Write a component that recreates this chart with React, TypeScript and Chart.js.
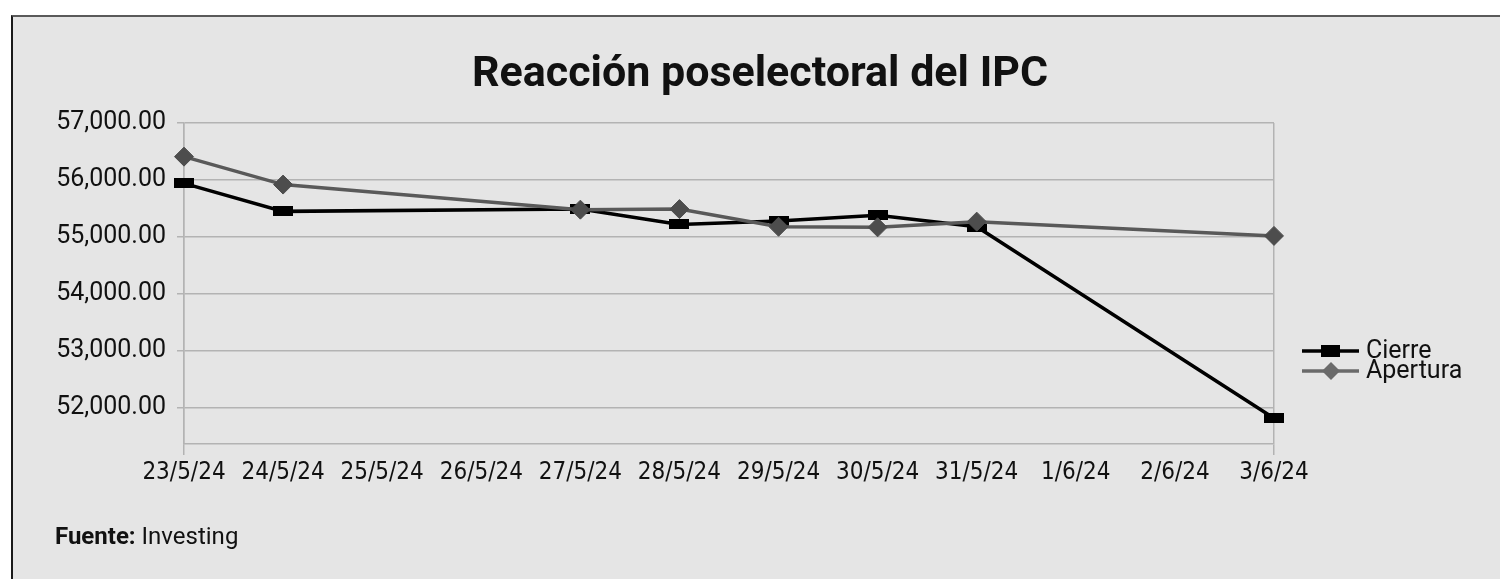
import { useEffect, useRef } from 'react';
import { Chart, registerables } from 'chart.js';

Chart.register(...registerables);

const TITLE = 'Reacción poselectoral del IPC';
const labels = ['23/5/24', '24/5/24', '25/5/24', '26/5/24', '27/5/24', '28/5/24', '29/5/24', '30/5/24', '31/5/24', '1/6/24', '2/6/24', '3/6/24'];
const cierre = [55940, 55450, null, null, 55490, 55220, 55280, 55380, 55180, null, null, 51820];
const apertura = [56410, 55920, null, null, 55480, 55490, 55180, 55170, 55270, null, null, 55020];
const yTickValues = [52000, 53000, 54000, 55000, 56000, 57000];
const Y_MIN = 51370;
const Y_MAX = 57000;

const CIERRE_COLOR = '#000000';
const APERTURA_COLOR = '#4d4d4d';
const APERTURA_LINE = '#595959';
const GRID = '#b3b3b3';

function makeRect(w: number, h: number, color: string) {
  const c = document.createElement('canvas');
  c.width = w;
  c.height = h;
  const ctx = c.getContext('2d')!;
  ctx.fillStyle = color;
  ctx.fillRect(0, 0, w, h);
  return c;
}

export default function App() {
  const ref = useRef<HTMLCanvasElement | null>(null);

  useEffect(() => {
    if (!ref.current) return;
    const rectMarker = makeRect(20, 10, CIERRE_COLOR);

    const overlay = {
      id: 'overlay',
      afterDraw(chart: any) {
        const ctx = chart.ctx as CanvasRenderingContext2D;
        ctx.save();
        // title
        ctx.fillStyle = '#111';
        ctx.font = 'bold 43px Roboto';
        ctx.textAlign = 'center';
        ctx.textBaseline = 'alphabetic';
        ctx.fillText(TITLE, 760, 86);
        // legend
        const items = [
          { label: 'Cierre', color: CIERRE_COLOR, y: 351, type: 'rect' },
          { label: 'Apertura', color: '#6a6a6a', y: 371, type: 'diamond' },
        ];
        ctx.textAlign = 'left';
        ctx.textBaseline = 'middle';
        ctx.font = '25px Roboto';
        for (const it of items) {
          ctx.strokeStyle = it.color;
          ctx.lineWidth = 3.5;
          ctx.beginPath();
          ctx.moveTo(1302, it.y);
          ctx.lineTo(1359, it.y);
          ctx.stroke();
          ctx.fillStyle = it.color;
          if (it.type === 'rect') {
            ctx.fillRect(1321, it.y - 6, 19, 12);
          } else {
            ctx.beginPath();
            ctx.moveTo(1331, it.y - 9);
            ctx.lineTo(1340, it.y);
            ctx.lineTo(1331, it.y + 9);
            ctx.lineTo(1322, it.y);
            ctx.closePath();
            ctx.fill();
          }
          ctx.fillStyle = '#111';
          ctx.fillText(it.label, 1366, it.y + 1);
        }
        // source
        ctx.textBaseline = 'alphabetic';
        ctx.font = 'bold 24px Roboto';
        ctx.fillStyle = '#111';
        const bold = 'Fuente:';
        ctx.fillText(bold, 55, 544);
        const w = ctx.measureText(bold).width;
        ctx.font = '24px Roboto';
        ctx.fillText(' Investing', 55 + w, 544);
        ctx.restore();
      },
    };

    const chart = new Chart(ref.current, {
      type: 'line',
      data: {
        labels,
        datasets: [
          {
            label: 'Cierre',
            data: cierre,
            borderColor: CIERRE_COLOR,
            backgroundColor: CIERRE_COLOR,
            borderWidth: 3.5,
            pointStyle: rectMarker as any,
            pointRadius: 10,
            spanGaps: true,
            tension: 0,
            order: 1,
          },
          {
            label: 'Apertura',
            data: apertura,
            borderColor: APERTURA_LINE,
            backgroundColor: APERTURA_COLOR,
            pointBorderColor: APERTURA_COLOR,
            pointBackgroundColor: APERTURA_COLOR,
            borderWidth: 3.5,
            pointStyle: 'rectRot',
            pointRadius: 9.5,
            pointBorderWidth: 1,
            spanGaps: true,
            tension: 0,
            order: 0,
          },
        ],
      },
      options: {
        responsive: false,
        animation: false,
        layout: { padding: { left: 0, top: 123, right: 226, bottom: 75 } },
        plugins: {
          legend: { display: false },
          title: { display: false },
          tooltip: { enabled: false },
        },
        scales: {
          x: {
            type: 'category',
            offset: false,
            afterFit: (s: any) => {
              s.height = 60;
            },
            grid: {
              display: true,
              drawOnChartArea: true,
              color: (c: any) => (c.index === 0 || c.index === labels.length - 1 ? GRID : 'rgba(0,0,0,0)'),
              tickLength: 11,
              lineWidth: 1.5,
            },
            border: { display: true, color: GRID, width: 1.5 },
            ticks: {
              autoSkip: false,
              maxRotation: 0,
              minRotation: 0,
              color: '#111',
              padding: 3,
              font: { family: "'DejaVu Sans Condensed', 'Liberation Sans Narrow', Roboto", size: 24 },
            },
          },
          y: {
            type: 'linear',
            min: Y_MIN,
            max: Y_MAX,
            afterFit: (s: any) => {
              s.width = 184;
            },
            afterBuildTicks: (s: any) => {
              s.ticks = yTickValues.map((v) => ({ value: v }));
            },
            grid: {
              color: GRID,
              tickLength: 7,
              lineWidth: 1.5,
            },
            border: { display: true, color: GRID, width: 1.5 },
            ticks: {
              autoSkip: false,
              padding: 11,
              color: '#111',
              font: { family: 'Roboto', size: 25 },
              callback: (v: any) =>
                Number(v).toLocaleString('en-US', { minimumFractionDigits: 2, maximumFractionDigits: 2 }),
            },
          },
        },
      },
      plugins: [overlay],
    });
    return () => chart.destroy();
  }, []);

  return (
    <div style={{ position: 'fixed', left: 0, top: 0, width: 1500, height: 579, background: '#fff', overflow: 'hidden' }}>
      <div
        style={{
          position: 'absolute',
          left: 11,
          top: 15,
          right: -5,
          bottom: -5,
          background: '#e5e5e5',
          borderTop: '2px solid #5a5a5a',
          borderLeft: '2px solid #1a1a1a',
        }}
      />
      <canvas ref={ref} width={1500} height={579} style={{ position: 'absolute', left: 0, top: 0, width: 1500, height: 579 }} />
    </div>
  );
}
